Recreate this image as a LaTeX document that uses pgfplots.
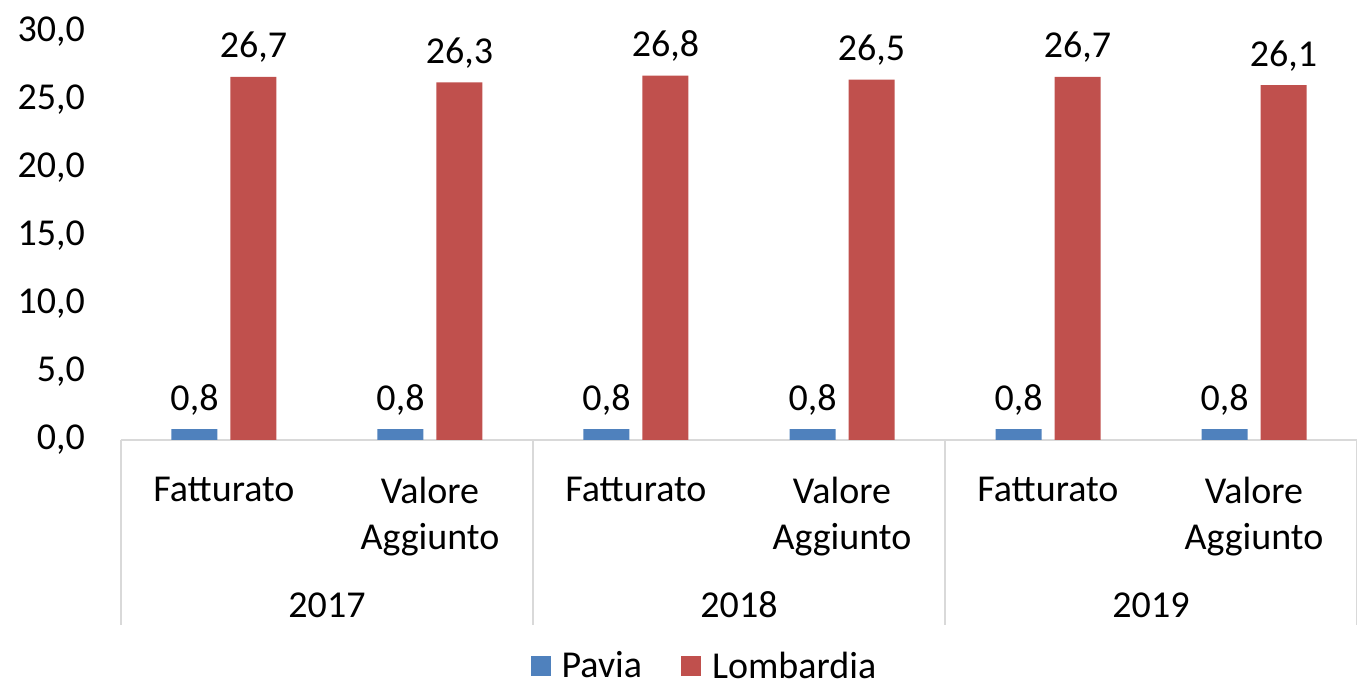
\documentclass[border=0pt]{standalone}
\usepackage{fontspec}
\setmainfont{Carlito}
\usepackage{pgfplots}
\pgfplotsset{compat=1.18}
\definecolor{pavia}{HTML}{4F81BD}
\definecolor{lomb}{HTML}{C0504D}
\definecolor{sep}{HTML}{D9D9D9}
\begin{document}
\begin{tikzpicture}[font=\fontsize{19}{23}\selectfont]
\path[use as bounding box] (-60.5pt,-124pt) rectangle (618pt,220pt);
\begin{axis}[
  at={(0,0)}, anchor=south west,
  scale only axis, width=618pt, height=204pt,
  ybar=6.5pt, bar width=23pt,
  xmin=-0.5, xmax=5.5, ymin=0, ymax=30,
  enlargelimits=false,
  axis lines*=left,
  x axis line style={draw=sep, line width=0.8pt},
  y axis line style={draw=none},
  major tick length=0pt,
  xtick={0,1,2,3,4,5},
  xticklabels={Fatturato, {Valore\\Aggiunto}, Fatturato, {Valore\\Aggiunto}, Fatturato, {Valore\\Aggiunto}},
  xticklabel style={align=center, anchor=north, yshift=-15pt},
  ytick={0,5,10,15,20,25,30},
  yticklabel style={xshift=-14.5pt},
  /pgf/number format/.cd, fixed, fixed zerofill, precision=1, use comma, assume math mode=true,
  /pgfplots/.cd,
  nodes near coords,
  every node near coord/.append style={yshift=3.5pt, black},
  clip=false,
  legend columns=2,
  legend style={draw=none, at={(0.4757,-0.555)}, anchor=center, inner ysep=0pt,
    /tikz/every even column/.append style={column sep=14pt},
    nodes={inner xsep=5.5pt, inner ysep=1pt}},
  legend image code/.code={\fill[#1] (0pt,-5pt) rectangle (10pt,5pt);},
]
\addplot[fill=pavia, draw=none] coordinates {(0,0.8) (1,0.8) (2,0.8) (3,0.8) (4,0.8) (5,0.8)};
\addplot[fill=lomb, draw=none] coordinates {(0,26.7) (1,26.3) (2,26.8) (3,26.5) (4,26.7) (5,26.1)};
\legend{Pavia, Lombardia}
\foreach \x in {-0.5,1.5,3.5,5.5}{
  \edef\temp{\noexpand\draw[sep, line width=0.8pt] (axis cs:\x,0) -- ([yshift=-92.5pt]axis cs:\x,0);}
  \temp
}
\node at (axis cs:0.5,0) [yshift=-82.5pt] {2017};
\node at (axis cs:2.5,0) [yshift=-82.5pt] {2018};
\node at (axis cs:4.5,0) [yshift=-82.5pt] {2019};
\end{axis}
\end{tikzpicture}
\end{document}
